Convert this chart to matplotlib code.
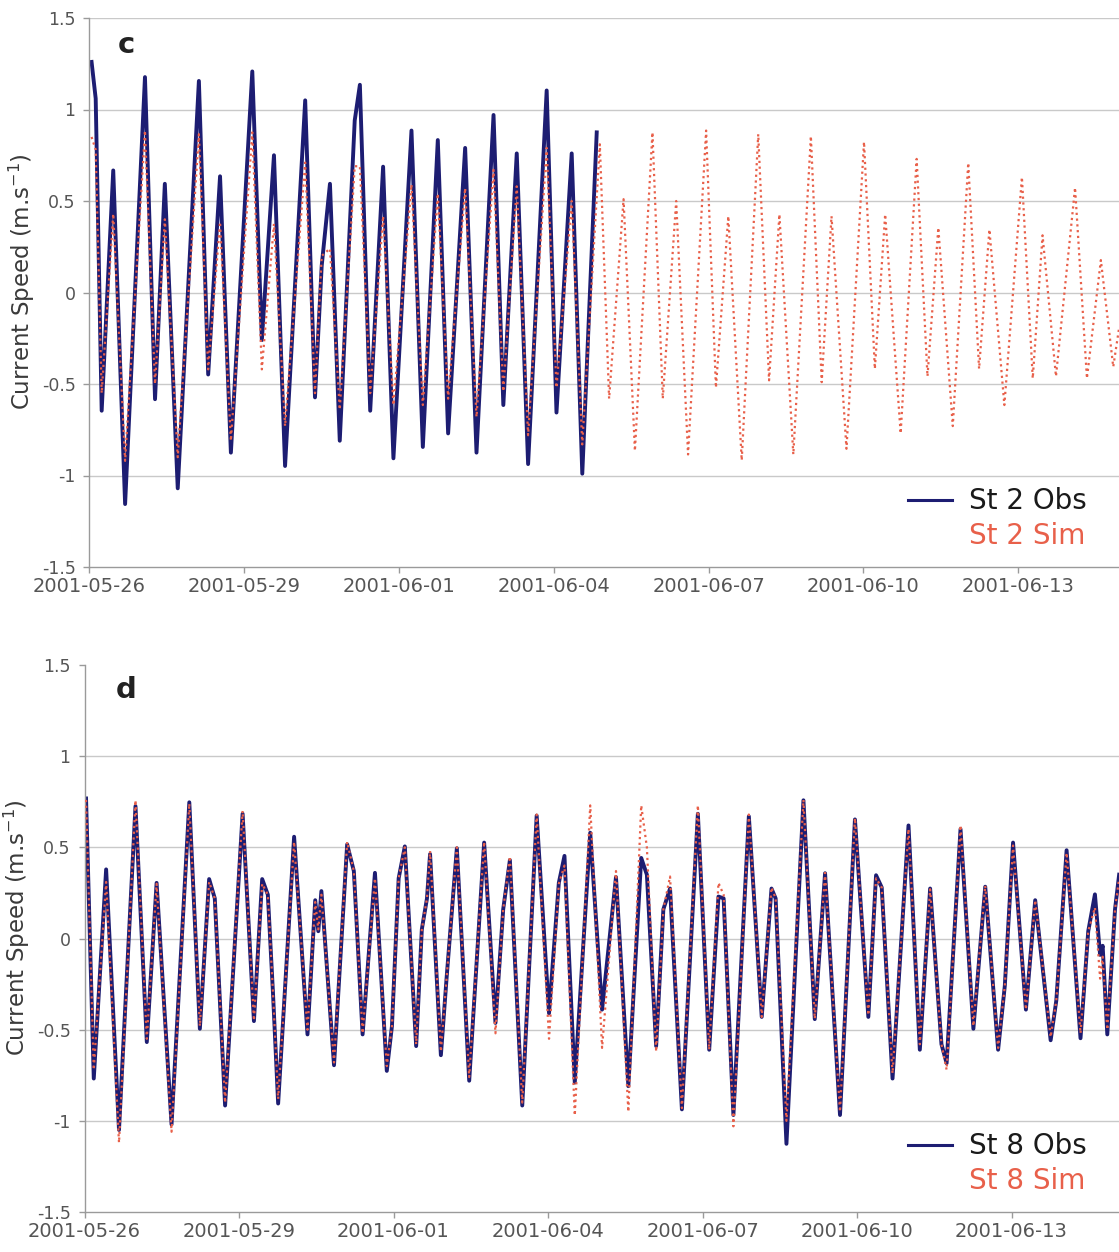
import matplotlib
matplotlib.use("Agg")
import matplotlib.pyplot as plt
from matplotlib.lines import Line2D

# ---------------- data (days since 2001-05-26 00:00, current speed m/s) ----------------
tick_days = [0, 3, 6, 9, 12, 15, 18]
tick_labels = ["2001-05-26", "2001-05-29", "2001-06-01", "2001-06-04",
               "2001-06-07", "2001-06-10", "2001-06-13"]
y_ticks = [1.5, 1, 0.5, 0, -0.5, -1, -1.5]
y_tick_labels = ["1.5", "1", "0.5", "0", "-0.5", "-1", "-1.5"]

# Panel c - St 2 observed
c_obs_day = [0.04, 0.12, 0.236, 0.46, 0.69, 1.075, 1.27, 1.46, 1.71, 2.12, 2.30, 2.53,
             2.74, 3.155, 3.34, 3.575, 3.79, 4.18, 4.37, 4.50, 4.66, 4.85, 5.14, 5.24,
             5.44, 5.69, 5.89, 6.24, 6.46, 6.75, 6.95, 7.28, 7.50, 7.83, 8.02, 8.28,
             8.50, 8.86, 9.05, 9.345, 9.55, 9.83]
c_obs_val = [1.26, 1.06, -0.646, 0.667, -1.156, 1.177, -0.583, 0.594, -1.07, 1.156, -0.448, 0.635,
             -0.875, 1.208, -0.26, 0.75, -0.948, 1.05, -0.573, 0.146, 0.594, -0.81, 0.94, 1.135,
             -0.646, 0.6875, -0.906, 0.885, -0.844, 0.833, -0.77, 0.79, -0.875, 0.97, -0.615, 0.76,
             -0.9375, 1.104, -0.656, 0.76, -0.99, 0.875]

# Panel c - St 2 simulated
c_sim_day = [0.04, 0.12, 0.236, 0.46, 0.69, 1.075, 1.27, 1.46, 1.71, 2.12, 2.30, 2.53,
             2.74, 3.155, 3.34, 3.575, 3.79, 4.18, 4.37, 4.50, 4.66, 4.85, 5.14, 5.24,
             5.44, 5.69, 5.89, 6.24, 6.46, 6.75, 6.95, 7.28, 7.50, 7.83, 8.02, 8.28,
             8.50, 8.86, 9.05, 9.345, 9.55, 9.89, 10.07, 10.35, 10.57, 10.91, 11.11,
             11.37, 11.60, 11.95, 12.14, 12.38, 12.64, 12.96, 13.17, 13.37, 13.64, 13.98,
             14.19, 14.38, 14.67, 15.01, 15.22, 15.42, 15.72, 16.03, 16.24, 16.45, 16.73,
             17.03, 17.24, 17.44, 17.73, 18.07, 18.28, 18.47, 18.73, 19.10, 19.33, 19.60,
             19.84, 19.95]
c_sim_val = [0.85, 0.78, -0.55, 0.43, -0.92, 0.885, -0.50, 0.40, -0.90, 0.865, -0.42, 0.385,
             -0.81, 0.875, -0.42, 0.375, -0.73, 0.71, -0.55, 0.20, 0.24, -0.64, 0.69, 0.69,
             -0.55, 0.417, -0.615, 0.59, -0.615, 0.54, -0.58, 0.57, -0.68, 0.67, -0.54, 0.58,
             -0.78, 0.79, -0.52, 0.50, -0.83, 0.81, -0.58, 0.51, -0.865, 0.875, -0.58,
             0.50, -0.885, 0.885, -0.52, 0.417, -0.917, 0.865, -0.48, 0.427, -0.885, 0.854,
             -0.49, 0.417, -0.854, 0.823, -0.417, 0.427, -0.77, 0.73, -0.458, 0.354, -0.73,
             0.708, -0.417, 0.344, -0.615, 0.63, -0.469, 0.3125, -0.458, 0.573, -0.469, 0.177,
             -0.406, -0.2]

# Panel d - St 8
d_day = [0.03, 0.18, 0.42, 0.67, 0.99, 1.21, 1.40, 1.69, 2.035, 2.24, 2.42, 2.53, 2.73,
         3.07, 3.29, 3.45, 3.56, 3.66, 3.76, 4.07, 4.33, 4.48, 4.54, 4.60, 4.845, 5.10,
         5.23, 5.40, 5.64, 5.87, 5.97, 6.10, 6.22, 6.44, 6.55, 6.65, 6.71, 6.92, 7.03,
         7.23, 7.47, 7.76, 7.98, 8.13, 8.26, 8.50, 8.78, 9.02, 9.21, 9.32, 9.52, 9.82,
         10.05, 10.32, 10.56, 10.81, 10.92, 11.10, 11.24, 11.37, 11.60, 11.91, 12.13,
         12.31, 12.41, 12.60, 12.90, 13.15, 13.34, 13.42, 13.63, 13.96, 14.18, 14.38,
         14.67, 14.96, 15.22, 15.37, 15.48, 15.69, 16.00, 16.22, 16.42, 16.64, 16.74,
         17.01, 17.26, 17.49, 17.74, 17.87, 18.03, 18.28, 18.46, 18.76, 18.87, 19.07,
         19.34, 19.49, 19.62, 19.72, 19.77, 19.86, 20.01, 20.09]
d_obs_val = [0.768, -0.768, 0.379, -1.05, 0.726, -0.568, 0.305, -1.02, 0.747, -0.495, 0.326, 0.22, -0.916,
             0.684, -0.453, 0.326, 0.24, -0.3, -0.905, 0.558, -0.526, 0.21, 0.04, 0.26, -0.695, 0.516,
             0.37, -0.526, 0.36, -0.726, -0.48, 0.33, 0.505, -0.59, 0.05, 0.22, 0.463, -0.64, -0.22,
             0.495, -0.78, 0.526, -0.463, 0.16, 0.43, -0.916, 0.674, -0.41, 0.305, 0.453, -0.79, 0.58,
             -0.39, 0.337, -0.81, 0.442, 0.35, -0.59, 0.16, 0.274, -0.937, 0.684, -0.61,
             0.23, 0.22, -0.968, 0.67, -0.43, 0.274, 0.22, -1.126, 0.758, -0.442, 0.358,
             -0.968, 0.653, -0.43, 0.347, 0.28, -0.768, 0.62, -0.61, 0.274, -0.58, -0.684,
             0.60, -0.495, 0.284, -0.61, -0.26, 0.526, -0.39, 0.21, -0.558, -0.34, 0.484,
             -0.547, 0.04, 0.242, -0.09, -0.04, -0.526, 0.16, 0.35]
d_sim_val = [0.76, -0.72, 0.31, -1.12, 0.758, -0.55, 0.30, -1.06, 0.74, -0.48, 0.31, 0.22, -0.90,
             0.70, -0.45, 0.30, 0.24, -0.3, -0.88, 0.53, -0.50, 0.20, 0.05, 0.24, -0.68, 0.53,
             0.37, -0.52, 0.33, -0.70, -0.48, 0.33, 0.50, -0.58, 0.05, 0.22, 0.48, -0.62, -0.22,
             0.50, -0.76, 0.53, -0.52, 0.16, 0.45, -0.90, 0.68, -0.55, 0.30, 0.40, -0.97, 0.73,
             -0.60, 0.37, -0.95, 0.73, 0.50, -0.62, 0.16, 0.34, -0.93, 0.73, -0.61,
             0.305, 0.24, -1.03, 0.68, -0.43, 0.28, 0.22, -1.00, 0.76, -0.44, 0.36,
             -0.95, 0.66, -0.42, 0.33, 0.28, -0.74, 0.60, -0.58, 0.27, -0.58, -0.72,
             0.62, -0.48, 0.29, -0.60, -0.26, 0.51, -0.39, 0.21, -0.54, -0.34, 0.47,
             -0.52, 0.04, 0.17, -0.22, -0.10, -0.50, 0.16, 0.33]

obs_color = "#1d1d72"
sim_color = "#e8604a"
grid_color = "#c9c9c9"
axis_color = "#9a9a9a"
text_color = "#555555"

W, H = 1119, 1252
fig = plt.figure(figsize=(W / 100, H / 100), dpi=100)


def px_axes(left, right, top, bottom):
    return fig.add_axes([left / W, 1 - bottom / H, (right - left) / W, (bottom - top) / H])


def style_axes(ax, xmax, top_grid=True):
    ax.set_xlim(0, xmax)
    ax.set_ylim(-1.5, 1.5)
    for v in y_ticks:
        if v == -1.5:
            continue
        if v == 1.5 and not top_grid:
            continue
        ax.axhline(v, color=grid_color, lw=1.0, zorder=0)
    for s in ["top", "right"]:
        ax.spines[s].set_visible(False)
    for s in ["left", "bottom"]:
        ax.spines[s].set_color(axis_color)
        ax.spines[s].set_linewidth(1.0)
    ax.set_yticks(y_ticks)
    ax.set_yticklabels(y_tick_labels)
    ax.set_xticks(tick_days)
    ax.set_xticklabels(tick_labels)
    ax.tick_params(axis="both", colors=axis_color, labelcolor=text_color,
                   length=4, width=1, direction="out")
    ax.tick_params(axis="y", labelsize=12.5, pad=6)
    ax.tick_params(axis="x", labelsize=14, pad=3)
    ax.set_ylabel("Current Speed (m.s$^{-1}$)", fontsize=16.5, color="#3a3a3a")
    ax.yaxis.set_label_coords(-0.051, 0.52)
    ax.patch.set_alpha(0)


def legend(ax, st):
    handles = [Line2D([], [], color=obs_color, lw=2.2),
               Line2D([], [], color="none", lw=0)]
    lg = ax.legend(handles, [f"St {st} Obs", f"St {st} Sim"], loc="lower right",
                   bbox_to_anchor=(0.985, 0.0), frameon=False, fontsize=20,
                   handlelength=1.6, handletextpad=0.6, labelspacing=0.25,
                   borderaxespad=0.2, labelcolor=["#1a1a1a", sim_color])
    return lg


# ---------------- panel c ----------------
axc = px_axes(89.5, 1119, 18, 567)
style_axes(axc, (1119 - 89.5) / 51.6)
axc.plot(c_obs_day, c_obs_val, color=obs_color, lw=2.8, solid_joinstyle="round", zorder=2)
axc.plot(c_sim_day, c_sim_val, color=sim_color, lw=1.6, linestyle=(0, (1, 1.6)), zorder=3)
legend(axc, 2)
axc.text(0.027, 0.95, "c", transform=axc.transAxes, fontsize=21, fontweight="bold",
         color="#222222", va="center", ha="left")

# ---------------- panel d ----------------
axd = px_axes(84.5, 1119, 665, 1212)
style_axes(axd, (1119 - 84.5) / 51.5, top_grid=False)
axd.plot(d_day, d_obs_val, color=obs_color, lw=2.8, solid_joinstyle="round", zorder=2)
axd.plot(d_day, d_sim_val, color=sim_color, lw=1.6, linestyle=(0, (1, 1.6)), zorder=3)
legend(axd, 8)
axd.text(0.03, 0.955, "d", transform=axd.transAxes, fontsize=21, fontweight="bold",
         color="#222222", va="center", ha="left")

fig.savefig("out.png", dpi=100)
